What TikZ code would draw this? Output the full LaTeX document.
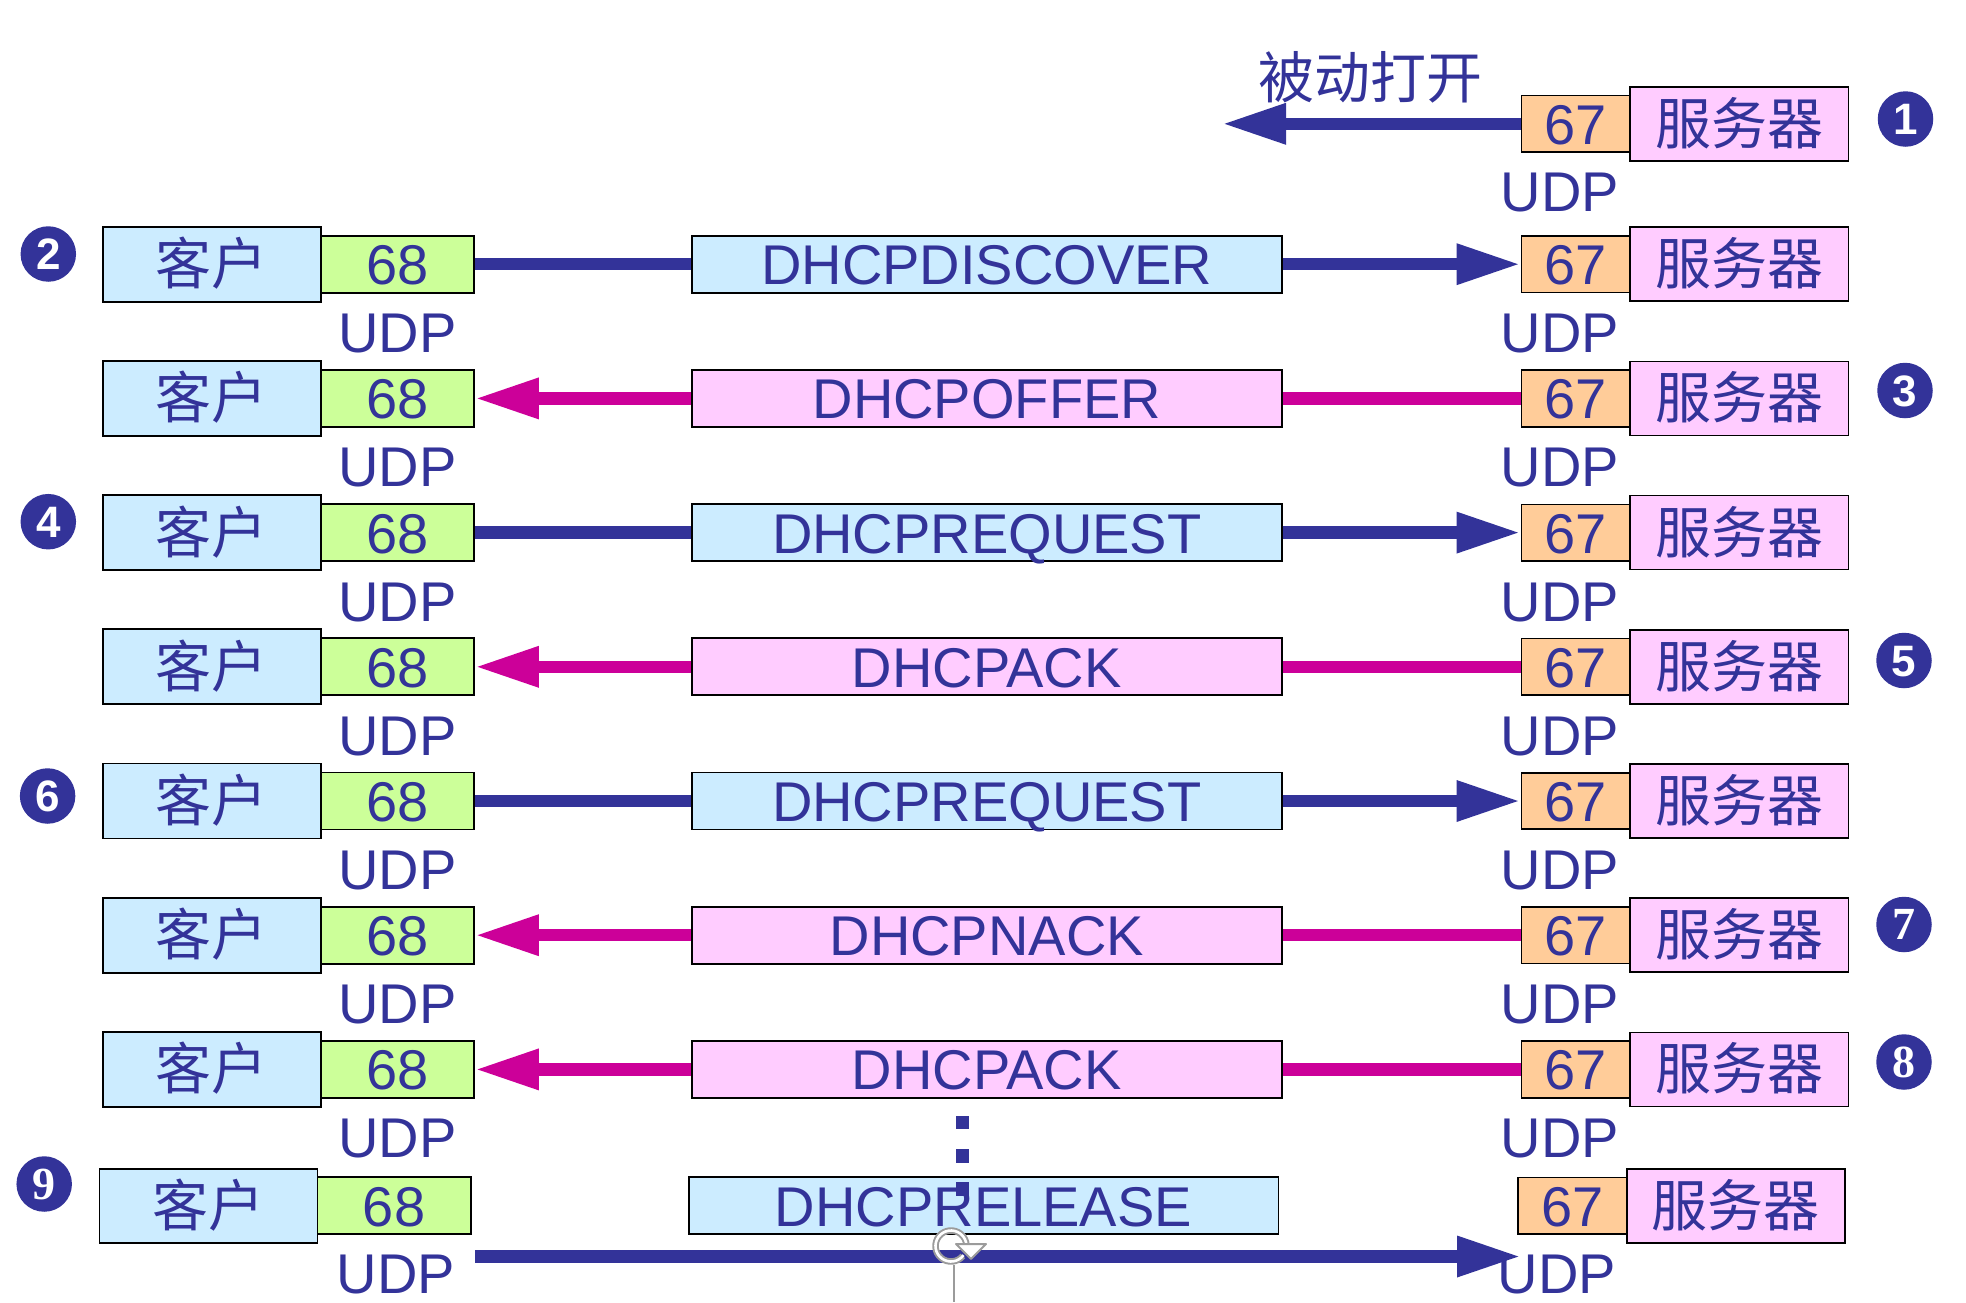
\documentclass[tikz,border=0pt]{standalone}
\usepackage{fontspec}
\setmainfont{Liberation Sans}
\newfontfamily\cjk{Noto Sans CJK SC}
\newfontfamily\serifdig{Liberation Serif}
\usetikzlibrary{arrows.meta}
\newcommand\bigf{\fontsize{56pt}{62pt}\selectfont}
\newcommand\numsf{\fontsize{44pt}{48pt}\selectfont\bfseries}
\newcommand\numsr{\fontsize{46pt}{50pt}\selectfont\serifdig\bfseries}
\definecolor{tblue}{RGB}{51,51,153}
\definecolor{tmag}{RGB}{204,0,153}
\definecolor{fcli}{RGB}{204,236,255}
\definecolor{fgrn}{RGB}{204,255,153}
\definecolor{forg}{RGB}{255,204,153}
\definecolor{fpnk}{RGB}{255,204,255}
\definecolor{handle}{RGB}{155,155,155}
\begin{document}
\begin{tikzpicture}[x=1pt,y=-1pt,
  box/.style={draw=black, line width=1.7pt, inner sep=0pt, text=tblue, font=\bigf,
    text height=41pt, text depth=0pt},
  cli/.style={box, fill=fcli, minimum width=218pt, minimum height=75pt, font=\bigf\cjk},
  p68/.style={box, fill=fgrn, minimum width=153.3pt, minimum height=57pt},
  msgb/.style={box, minimum width=589.7pt, minimum height=57pt},
  p67/.style={box, fill=forg, minimum width=108.6pt, minimum height=56.5pt},
  srv/.style={box, fill=fpnk, minimum width=218.5pt, minimum height=74pt, font=\bigf\cjk},
  udp/.style={inner sep=0pt, text=tblue, font=\bigf, anchor=base},
  num/.style={circle, fill=tblue, text=white, minimum size=55.5pt, inner sep=0pt,
    font=\numsf, text height=31.5pt, text depth=0pt},
  numr/.style={num, font=\numsr, text height=30.5pt},
  bline/.style={draw=tblue, line width=12.3pt},
  mline/.style={draw=tmag, line width=12.3pt},
  tip/.style={-{Triangle[length=64pt,width=38pt]}}
]
\useasboundingbox (0,0) rectangle (1966,1302);

% row 1
\node[p67] (b1) at (1575.7,123.8) {67};
\node[srv] (s1) at (1739.2,123.8) {服务器};
\node[udp] (ur1) at (1560,211.7) {UDP};
\node[inner sep=0pt, text=tblue, font=\bigf\cjk, text height=41pt, text depth=0pt] (open) at (1370,78) {被动打开};
\coordinate (o1) at (1222,123.8);
\draw[bline,tip] (b1.west) -- (o1);

% rows 2-8
\foreach \r/\y/\msg/\fc in {2/264.2/DHCPDISCOVER/fcli,3/398.4/DHCPOFFER/fpnk,4/532.6/DHCPREQUEST/fcli,5/666.8/DHCPACK/fpnk,6/801/DHCPREQUEST/fcli,7/935.2/DHCPNACK/fpnk,8/1069.4/DHCPACK/fpnk}{
  \node[cli] (c\r) at (211.7,\y) {客户};
  \node[p68] (a\r) at (397.4,\y) {68};
  \node[msgb, fill=\fc] (m\r) at (986.8,\y) {\msg};
  \node[p67] (b\r) at (1575.7,\y) {67};
  \node[srv] (s\r) at (1739.2,\y) {服务器};
  \node[udp] (ul\r) at (397.4,\y+88.5) {UDP};
  \node[udp] (ur\r) at (1560,\y+88.5) {UDP};
}
\foreach \r in {2,4,6}{
  \draw[bline] (a\r.east) -- (m\r.west);
  \draw[bline,tip] (m\r.east) -- (b\r.west);
}
\foreach \r in {3,5,7,8}{
  \draw[mline] (b\r.west) -- (m\r.east);
  \draw[mline,tip] (m\r.west) -- (a\r.east);
}

% row 9
\node[cli, minimum height=73.7pt] (c9) at (208.4,1205.8) {客户};
\node[p68] (a9) at (394.1,1205.8) {68};
\node[msgb, fill=fcli] (m9) at (983.5,1205.8) {DHCPRELEASE};
\node[p67] (b9) at (1572.4,1205.8) {67};
\node[srv, minimum height=73.7pt] (s9) at (1735.9,1205.8) {服务器};
\node[udp] (ul9) at (396,1293) {UDP};
\node[udp] (ur9) at (1557,1293) {UDP};
\coordinate (p9) at (475,1256.5);
\coordinate (q9) at (1521,1256.5);
\draw[bline,tip] (p9) -- (q9);

% dots
\foreach \yy in {1122.7,1156,1189}{
  \fill[tblue] (955.5,\yy-6.7) rectangle (969,\yy+6.7);
}

% rotation handle
\draw[handle, line width=1.8pt] (954.3,1265) -- (954.3,1302);
\draw[handle, line width=6.5pt] (951,1246) ++(40:15.5) arc[start angle=40, end angle=358, radius=15.5];
\draw[white, line width=2.6pt] (951,1246) ++(36:15.5) arc[start angle=36, end angle=362, radius=15.5];
\filldraw[fill=white, draw=handle, line width=2pt, line join=round]
  (956,1244) -- (986,1244) -- (971,1259) -- cycle;

% step numbers
\node[num] (n1) at (1905.5,119) {1};
\node[num] (n2) at (48.3,254) {2};
\node[num] (n3) at (1905,390.5) {3};
\node[num] (n4) at (48.3,521.7) {4};
\node[num] (n5) at (1904,660.5) {5};
\node[num] (n6) at (47.6,796) {6};
\node[numr] (n7) at (1904,924.5) {7};
\node[numr] (n8) at (1904,1062) {8};
\node[numr] (n9) at (44.2,1184) {9};
\end{tikzpicture}
\end{document}
